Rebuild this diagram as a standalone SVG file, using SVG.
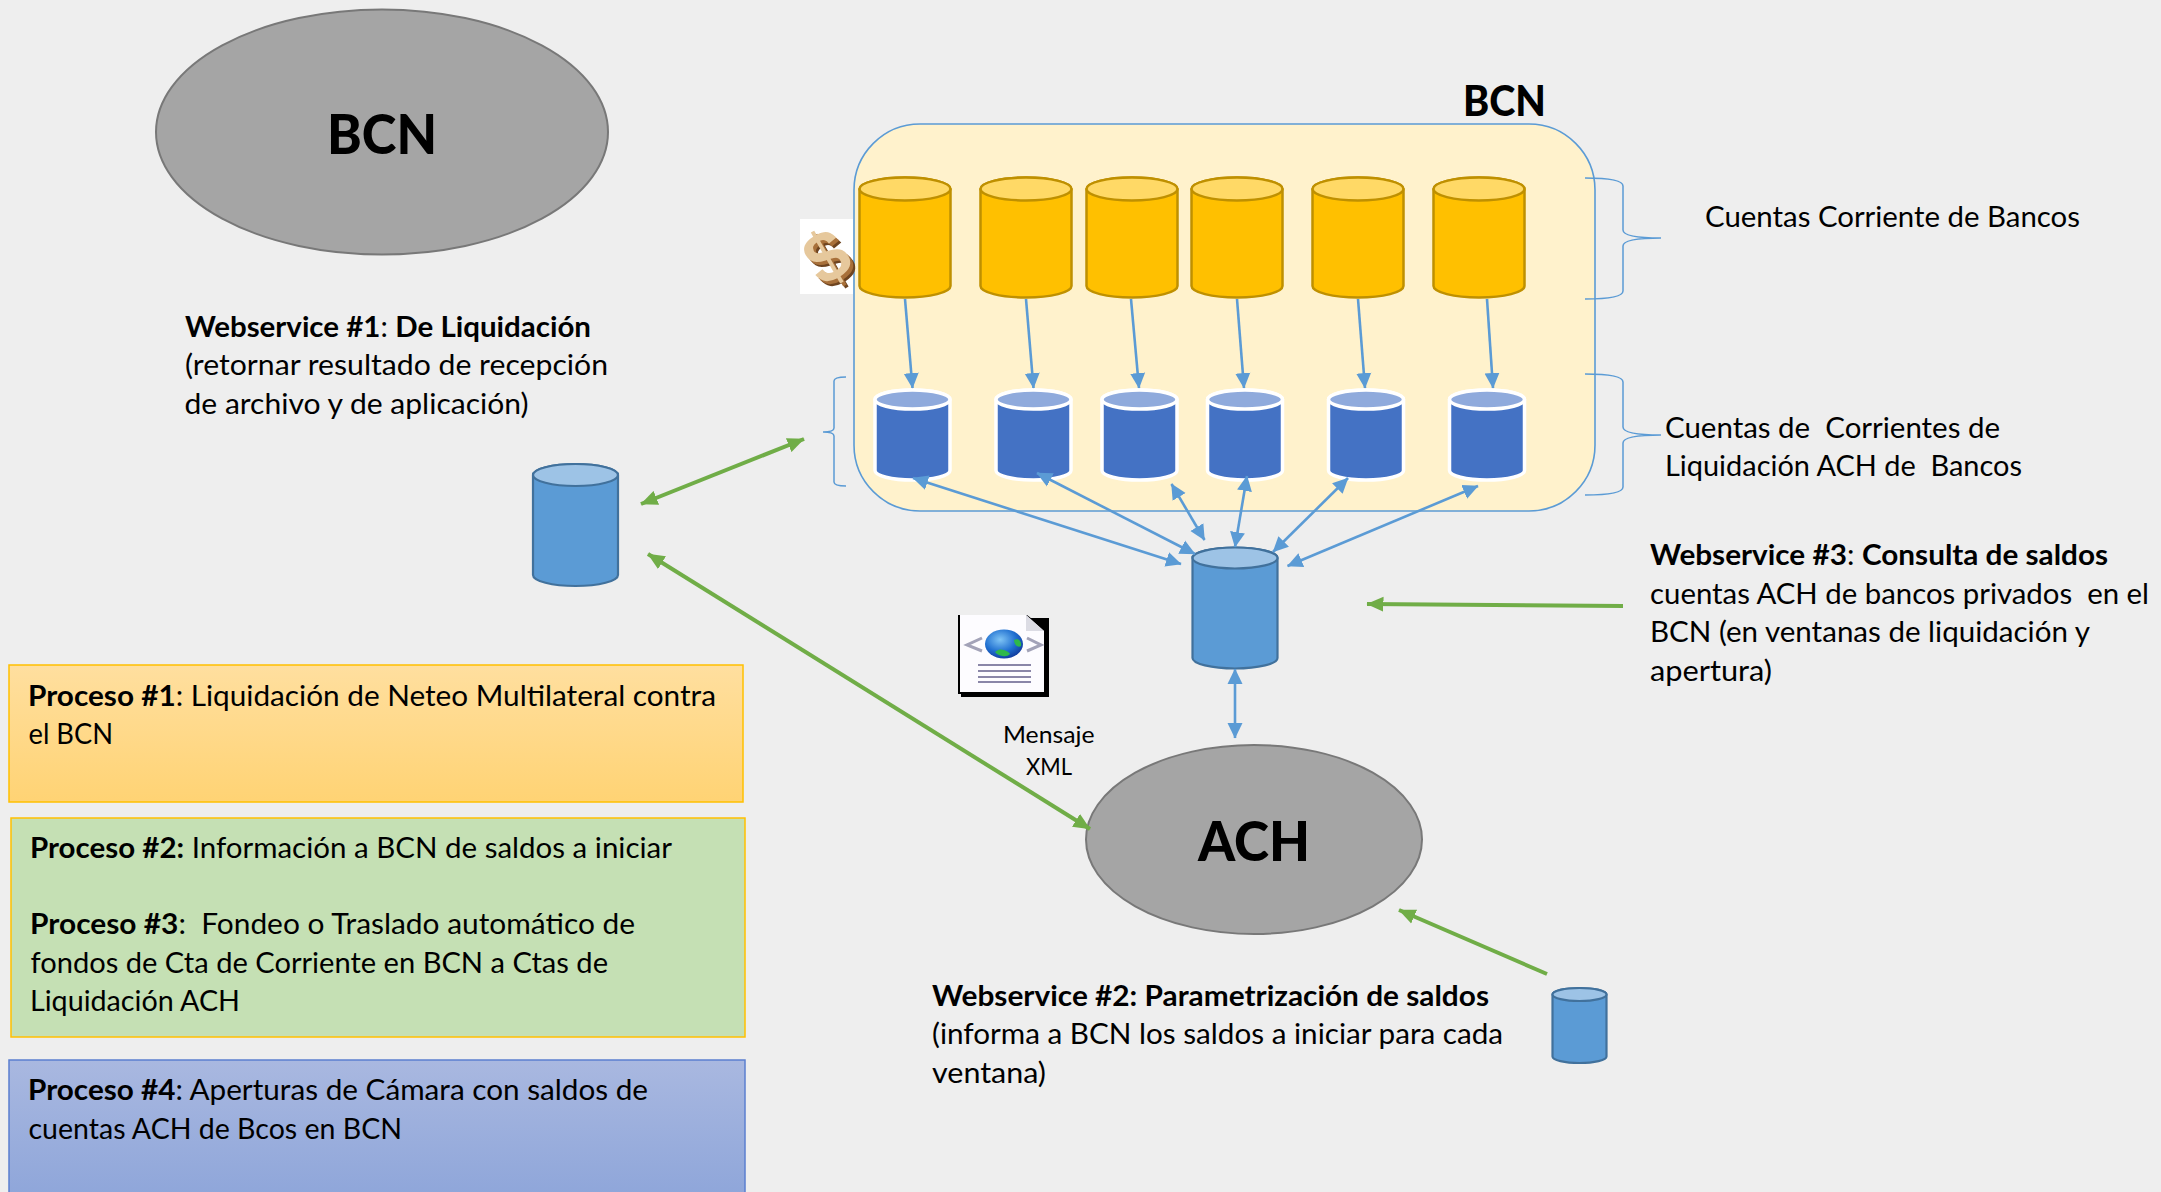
<svg xmlns="http://www.w3.org/2000/svg" width="2161" height="1192" viewBox="0 0 2161 1192">
<style>
text{font-family:"Lato","Carlito","Liberation Sans",sans-serif;font-size:29px;fill:#000;white-space:pre}
.b{font-weight:700}
.big{font-weight:900;font-size:56px}
.mid{font-weight:900;font-size:42px}
.sm{font-size:24px}
.ell{fill:#a5a5a5;stroke:#787878;stroke-width:2}
.blue{fill:none;stroke:#5b9bd5;stroke-width:2.6}
.green{fill:none;stroke:#70ad47;stroke-width:4}
.brace{fill:none;stroke:#5b9bd5;stroke-width:1.5}
.cy{stroke:#bf9000;stroke-width:2.5;fill:#ffc000}.ty{fill:#ffd966}
.cw{stroke:#fff;stroke-width:3.5;fill:#4472c4}.tw{fill:#8faadc}
.cb{stroke:#41719c;stroke-width:2.2;fill:#5b9bd5}.cb .t{fill:#9dc3e6}
.dollar{font-family:"Liberation Sans",sans-serif;font-size:72px;font-weight:700;text-anchor:middle}
</style>
<defs>
<linearGradient id="g1" x1="0" y1="0" x2="0" y2="1"><stop offset="0" stop-color="#ffdf9f"/><stop offset="1" stop-color="#ffd374"/></linearGradient>
<linearGradient id="g3" x1="0" y1="0" x2="0" y2="1"><stop offset="0" stop-color="#a9b8e0"/><stop offset="1" stop-color="#8ca4d9"/></linearGradient>
<radialGradient id="gl" cx="0.4" cy="0.35" r="0.7"><stop offset="0" stop-color="#7fc4f5"/><stop offset="0.6" stop-color="#1f6fd0"/><stop offset="1" stop-color="#10389a"/></radialGradient>
<marker id="ab" markerUnits="userSpaceOnUse" markerWidth="16" markerHeight="16" viewBox="0 0 16 16" refX="15" refY="8" orient="auto-start-reverse"><path d="M0 0.5L15.5 8L0 15.5Z" fill="#5b9bd5"/></marker>
<marker id="ag" markerUnits="userSpaceOnUse" markerWidth="18" markerHeight="16" viewBox="0 0 18 16" refX="16.5" refY="8" orient="auto-start-reverse"><path d="M0 0.5L17 8L0 15.5Z" fill="#70ad47"/></marker>
<g id="cyl-y"><path d="M0 11.500A45.500 11.500 0 0 1 91 11.500V108.500A45.500 11.500 0 0 1 0 108.500Z"/><ellipse class="ty" cx="45.500" cy="11.500" rx="45.500" ry="11.500"/></g>
<g id="cyl-w"><path d="M0 9.5A37.5 9.5 0 0 1 75 9.5V80.500A37.500 9.500 0 0 1 0 80.500Z"/><ellipse class="tw" cx="37.500" cy="9.500" rx="37.500" ry="9.500"/></g>
</defs>
<rect width="2161" height="1192" fill="#eeeeee"/>

<g id="bcn-ellipse"><ellipse class="ell" cx="382" cy="132" rx="226" ry="122.500"/><text class="big" x="327" y="154" textLength="110" lengthAdjust="spacingAndGlyphs">BCN</text></g>

<g id="bcn-container"><rect x="854" y="124" width="741" height="387" rx="66" ry="66" fill="#fff2cc" stroke="#5b9bd5" stroke-width="1.600"/><text class="mid" x="1463" y="116" textLength="83" lengthAdjust="spacingAndGlyphs">BCN</text></g>

<g id="dollar-icon"><rect x="800" y="219" width="53" height="75" fill="#fff"/>
<text class="dollar" transform="translate(844,283) rotate(-30)" style="fill:#6e4420">$</text>
<text class="dollar" transform="translate(842,281) rotate(-30)" style="fill:#a8703a">$</text>
<text class="dollar" transform="translate(839,278) rotate(-30)" style="fill:#e6c89c">$</text></g>

<g id="cc1" class="cy" transform="translate(859.500,177.500)"><use href="#cyl-y"/></g>
<g id="cc2" class="cy" transform="translate(980.500,177.500)"><use href="#cyl-y"/></g>
<g id="cc3" class="cy" transform="translate(1086.500,177.500)"><use href="#cyl-y"/></g>
<g id="cc4" class="cy" transform="translate(1191.500,177.500)"><use href="#cyl-y"/></g>
<g id="cc5" class="cy" transform="translate(1312.500,177.500)"><use href="#cyl-y"/></g>
<g id="cc6" class="cy" transform="translate(1433.500,177.500)"><use href="#cyl-y"/></g>

<g id="ach1" class="cw" transform="translate(875,390)"><use href="#cyl-w"/></g>
<g id="ach2" class="cw" transform="translate(996,390)"><use href="#cyl-w"/></g>
<g id="ach3" class="cw" transform="translate(1102,390)"><use href="#cyl-w"/></g>
<g id="ach4" class="cw" transform="translate(1207.500,390)"><use href="#cyl-w"/></g>
<g id="ach5" class="cw" transform="translate(1328.500,390)"><use href="#cyl-w"/></g>
<g id="ach6" class="cw" transform="translate(1449.500,390)"><use href="#cyl-w"/></g>

<g id="central-db" class="cb"><path d="M1192.500 558A42.500 10.500 0 0 1 1277.500 558V658A42.500 10.500 0 0 1 1192.500 658Z"/><ellipse class="t" cx="1235" cy="558" rx="42.500" ry="10.500"/></g>
<g id="left-db" class="cb"><path d="M533 475A42.500 11 0 0 1 618 475V575A42.500 11 0 0 1 533 575Z"/><ellipse class="t" cx="575.500" cy="475" rx="42.500" ry="11"/></g>
<g id="right-db" class="cb"><path d="M1552.500 994.500A27 6.500 0 0 1 1606.500 994.500V1056.500A27 6.500 0 0 1 1552.500 1056.500Z"/><ellipse class="t" cx="1579.500" cy="994.500" rx="27" ry="6.500"/></g>

<g id="ach-ellipse"><ellipse class="ell" cx="1254" cy="839.500" rx="168" ry="94.500"/><text class="big" x="1198" y="861" textLength="112" lengthAdjust="spacingAndGlyphs">ACH</text></g>

<g id="braces">
<path class="brace" d="M1585 178C1605 178 1623 180 1623 186V230C1623 236 1640 238 1661 238C1640 238 1623 240 1623 246V291C1623 297 1605 299 1585 299"/>
<path class="brace" d="M1585 374C1605 374 1623 376 1623 382V427C1623 433 1640 435 1661 435C1640 435 1623 437 1623 443V487C1623 493 1605 495 1585 495"/>
<path class="brace" d="M846 377C840 377 834 378 834 381V428C834 431 830 432 823 432C830 432 834 433 834 436V482C834 485 840 486 846 486"/>
</g>

<g id="connectors">
<line class="blue" x1="905" y1="299" x2="912.500" y2="388" marker-end="url(#ab)"/>
<line class="blue" x1="1026" y1="299" x2="1033.500" y2="388" marker-end="url(#ab)"/>
<line class="blue" x1="1131" y1="299" x2="1139" y2="388" marker-end="url(#ab)"/>
<line class="blue" x1="1237" y1="299" x2="1244" y2="388" marker-end="url(#ab)"/>
<line class="blue" x1="1358" y1="299" x2="1365" y2="388" marker-end="url(#ab)"/>
<line class="blue" x1="1487" y1="299" x2="1493" y2="388" marker-end="url(#ab)"/>
<line class="blue" x1="913" y1="478" x2="1181" y2="564" marker-start="url(#ab)" marker-end="url(#ab)"/>
<line class="blue" x1="1037" y1="473" x2="1195" y2="554" marker-start="url(#ab)" marker-end="url(#ab)"/>
<line class="blue" x1="1171.500" y1="484" x2="1204.500" y2="540" marker-start="url(#ab)" marker-end="url(#ab)"/>
<line class="blue" x1="1247" y1="476" x2="1235" y2="547" marker-start="url(#ab)" marker-end="url(#ab)"/>
<line class="blue" x1="1348" y1="478" x2="1273" y2="552" marker-start="url(#ab)" marker-end="url(#ab)"/>
<line class="blue" x1="1478" y1="486" x2="1287.500" y2="566" marker-start="url(#ab)" marker-end="url(#ab)"/>
<line class="blue" x1="1235" y1="669" x2="1235" y2="738" marker-start="url(#ab)" marker-end="url(#ab)"/>
<line class="green" x1="1623" y1="606" x2="1367" y2="604" marker-end="url(#ag)"/>
<line class="green" x1="641" y1="504" x2="804" y2="439" marker-start="url(#ag)" marker-end="url(#ag)"/>
<line class="green" x1="648" y1="554" x2="1090" y2="829" marker-start="url(#ag)" marker-end="url(#ag)"/>
<line class="green" x1="1547" y1="974" x2="1399" y2="910" marker-end="url(#ag)"/>
</g>

<g id="xml-icon">
<path d="M961 618H1049V697H961Z" fill="#000"/>
<path d="M958 615H1027L1046 630V694H958Z" fill="#000"/>
<path d="M960 615H1026L1044 631V692H960Z" fill="#fdfcff"/>
<path d="M1026 615L1044 631H1026Z" fill="#dcdce4"/>
<path d="M982 638L967 645L982 651M1027 638L1041 645L1027 651" fill="none" stroke="#a3a3b8" stroke-width="3"/>
<ellipse cx="1004" cy="644" rx="19" ry="14.500" fill="url(#gl)"/>
<path d="M998 650C1002 648 1010 652 1010 654C1006 658 998 656 995 652ZM1014 640C1018 638 1022 641 1021 646C1018 648 1014 645 1014 640Z" fill="#2eb84a"/>
<path d="M978 665H1031M978 671H1031M978 677H1031M978 682H1031" stroke="#8a86a8" stroke-width="2.200" fill="none"/>
<text class="sm" x="1003" y="743" textLength="91.500" lengthAdjust="spacingAndGlyphs">Mensaje</text>
<text class="sm" x="1026" y="775" textLength="46" lengthAdjust="spacingAndGlyphs">XML</text>
</g>

<g id="ws1">
<text x="185" y="337" textLength="406" lengthAdjust="spacingAndGlyphs"><tspan class="b">Webservice #1</tspan>: <tspan class="b">De Liquidación</tspan></text>
<text x="185" y="375" textLength="423" lengthAdjust="spacingAndGlyphs">(retornar resultado de recepción</text>
<text x="184.500" y="414" textLength="344" lengthAdjust="spacingAndGlyphs">de archivo y de aplicación)</text>
</g>
<g id="ws2">
<text class="b" x="932" y="1006" textLength="557" lengthAdjust="spacingAndGlyphs">Webservice #2: Parametrización de saldos</text>
<text x="932" y="1044" textLength="571" lengthAdjust="spacingAndGlyphs">(informa a BCN los saldos a iniciar para cada</text>
<text x="932" y="1083" textLength="114" lengthAdjust="spacingAndGlyphs">ventana)</text>
</g>
<g id="ws3">
<text x="1650" y="565" textLength="458" lengthAdjust="spacingAndGlyphs"><tspan class="b">Webservice #3</tspan>: <tspan class="b">Consulta de saldos</tspan></text>
<text x="1650" y="604" textLength="499" lengthAdjust="spacingAndGlyphs">cuentas ACH de bancos privados  en el</text>
<text x="1650" y="642" textLength="440" lengthAdjust="spacingAndGlyphs">BCN (en ventanas de liquidación y</text>
<text x="1650" y="681" textLength="122" lengthAdjust="spacingAndGlyphs">apertura)</text>
</g>
<g id="label-cc"><text x="1705" y="227" textLength="375" lengthAdjust="spacingAndGlyphs">Cuentas Corriente de Bancos</text></g>
<g id="label-ach">
<text x="1665" y="438" textLength="335" lengthAdjust="spacingAndGlyphs">Cuentas de  Corrientes de</text>
<text x="1665" y="476" textLength="357" lengthAdjust="spacingAndGlyphs">Liquidación ACH de  Bancos</text>
</g>

<g id="proceso1">
<rect x="9" y="665" width="734" height="137" fill="url(#g1)" stroke="#ffc000" stroke-width="1.500"/>
<text x="28" y="705.500" textLength="688" lengthAdjust="spacingAndGlyphs"><tspan class="b">Proceso #1</tspan>: Liquidación de Neteo Multilateral contra</text>
<text x="28.500" y="744" textLength="84.500" lengthAdjust="spacingAndGlyphs">el BCN</text>
</g>
<g id="proceso2-3">
<rect x="11" y="818" width="734" height="219" fill="#c5e0b4" stroke="#ffc000" stroke-width="1.500"/>
<text x="30" y="858" textLength="642" lengthAdjust="spacingAndGlyphs"><tspan class="b">Proceso #2:</tspan> Información a BCN de saldos a iniciar</text>
<text x="30" y="934" textLength="605" lengthAdjust="spacingAndGlyphs"><tspan class="b">Proceso #3</tspan>:  Fondeo o Traslado automático de</text>
<text x="30.500" y="973" textLength="577.500" lengthAdjust="spacingAndGlyphs">fondos de Cta de Corriente en BCN a Ctas de</text>
<text x="30" y="1011" textLength="210" lengthAdjust="spacingAndGlyphs">Liquidación ACH</text>
</g>
<g id="proceso4">
<rect x="9" y="1060" width="736" height="150" fill="url(#g3)" stroke="#5b7fcf" stroke-width="1.500"/>
<text x="28" y="1099.500" textLength="620" lengthAdjust="spacingAndGlyphs"><tspan class="b">Proceso #4</tspan>: Aperturas de Cámara con saldos de</text>
<text x="28.500" y="1139" textLength="373.500" lengthAdjust="spacingAndGlyphs">cuentas ACH de Bcos en BCN</text>
</g>
</svg>
